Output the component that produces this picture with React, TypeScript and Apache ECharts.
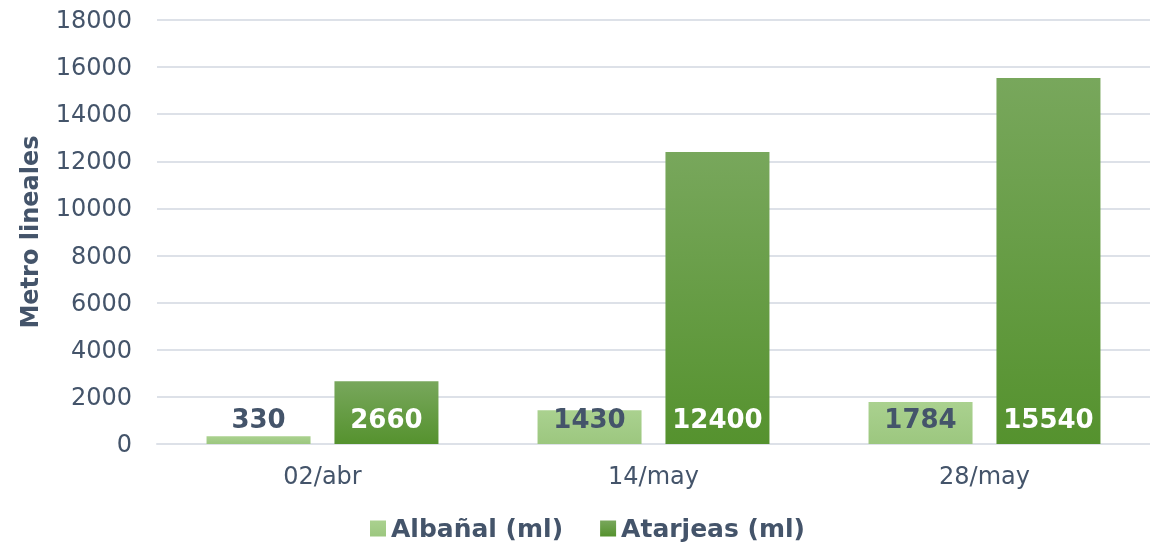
import React, { useEffect, useRef } from "react";
import * as echarts from "echarts";

const categories = ["02/abr", "14/may", "28/may"];
const albanal = [330, 1430, 1784];
const atarjeas = [2660, 12400, 15540];
const seriesNames = ["Albañal (ml)", "Atarjeas (ml)"];
const yAxisName = "Metro lineales";

const FONT = "'DejaVu Sans', sans-serif";
const TEXT = "#44546a";

export default function App() {
  const ref = useRef<HTMLDivElement>(null);
  useEffect(() => {
    if (!ref.current) return;
    const chart = echarts.init(ref.current, undefined, { renderer: "svg" });
    const lightGrad = new echarts.graphic.LinearGradient(0, 0, 0, 1, [
      { offset: 0, color: "#aad18f" },
      { offset: 1, color: "#9cc77f" },
    ]);
    const darkGrad = new echarts.graphic.LinearGradient(0, 0, 0, 1, [
      { offset: 0, color: "#78a75c" },
      { offset: 1, color: "#55922e" },
    ]);
    chart.setOption({
      animation: false,
      textStyle: { fontFamily: FONT },
      grid: { left: 157, width: 1002, top: 20, bottom: 103, containLabel: false },
      legend: {
        bottom: 1,
        left: 365,
        itemWidth: 16,
        itemHeight: 16,
        itemGap: 37,
        icon: "rect",
        textStyle: { fontFamily: FONT, fontSize: 25, fontWeight: "bold", color: TEXT },
        data: seriesNames,
      },
      xAxis: {
        type: "category",
        data: categories,
        axisLine: { lineStyle: { color: "#dde1e8", width: 2 } },
        axisTick: { show: false },
        axisLabel: { fontFamily: FONT, fontSize: 24, color: TEXT, margin: 20 },
      },
      yAxis: {
        type: "value",
        min: 0,
        max: 18000,
        interval: 2000,
        name: yAxisName,
        nameLocation: "middle",
        nameGap: 115,
        nameRotate: 90,
        nameTextStyle: { fontFamily: FONT, fontSize: 24, fontWeight: "bold", color: TEXT },
        axisLine: { show: false },
        axisTick: { show: false },
        splitLine: { lineStyle: { color: "#dde1e8", width: 2 } },
        axisLabel: {
          fontFamily: FONT,
          fontSize: 24,
          color: TEXT,
          margin: 25,
          formatter: (v: number) => String(v),
        },
      },
      series: [
        {
          name: seriesNames[0],
          type: "bar",
          data: albanal,
          barWidth: 104,
          barGap: "23%",
          itemStyle: { color: lightGrad },
          label: {
            show: true,
            position: "insideBottom",
            distance: 12,
            fontFamily: FONT,
            fontSize: 26,
            fontWeight: "bold",
            color: TEXT,
          },
        },
        {
          name: seriesNames[1],
          type: "bar",
          data: atarjeas,
          barWidth: 104,
          barGap: "23%",
          itemStyle: { color: darkGrad },
          label: {
            show: true,
            position: "insideBottom",
            distance: 12,
            fontFamily: FONT,
            fontSize: 26,
            fontWeight: "bold",
            color: "#ffffff",
          },
        },
      ],
    });
    return () => chart.dispose();
  }, []);
  return (
    <div
      ref={ref}
      style={{ position: "fixed", left: 0, top: 0, width: 1150, height: 547, overflow: "hidden" }}
    />
  );
}
